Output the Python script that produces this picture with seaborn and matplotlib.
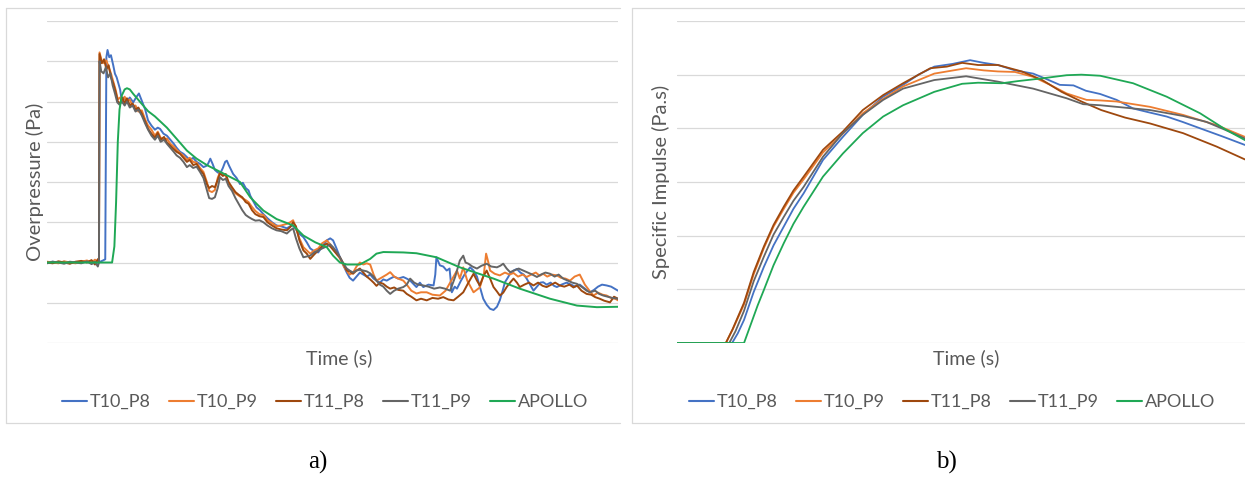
import matplotlib
matplotlib.use("Agg")
import matplotlib.pyplot as plt
from matplotlib.lines import Line2D
import seaborn as sns
import pandas as pd

# ---------------- data: panel a (overpressure, arbitrary units) ----------------
series_names = ["T10_P8", "T10_P9", "T11_P8", "T11_P9", "APOLLO"]
colors = ["#4472C4", "#ED7D31", "#9E480E", "#656565", "#1FA855"]

a_t10p8_t = [0, 1, 2, 3, 4, 5, 6, 7, 8, 9, 9.8, 10.2, 10.4, 10.6, 10.9, 11.2, 11.6, 11.9, 12.2, 12.5, 12.8, 13.1, 13.5, 14.0, 14.5, 15.1, 15.6, 16.1, 16.6, 17.2, 17.7, 18.3, 18.9, 19.4, 19.8, 20.4, 21.0, 21.6, 22.2, 22.7, 23.3, 23.9, 24.5, 25.0, 25.6, 26.2, 26.8, 27.4, 27.9, 28.2, 28.6, 29.0, 29.4, 29.8, 30.3, 30.8, 31.2, 31.5, 31.9, 32.6, 33.2, 33.8, 34.3, 34.8, 35.3, 35.6, 36.2, 36.7, 37.3, 37.9, 38.6, 39.4, 40.2, 41.0, 42.0, 42.6, 43.1, 43.7, 44.3, 44.9, 45.5, 46.1, 46.8, 47.5, 48.2, 49.0, 49.6, 50.1, 50.7, 51.3, 52.0, 52.5, 53.0, 53.6, 54.2, 54.8, 55.4, 56.0, 56.6, 57.2, 57.7, 58.3, 58.9, 59.5, 60.1, 60.8, 61.5, 62.4, 63.0, 63.6, 64.7, 65.3, 65.9, 66.8, 67.7, 68.0, 68.2, 68.8, 69.4, 70.0, 70.5, 70.9, 71.4, 71.8, 72.5, 73.2, 74.1, 74.7, 75.3, 75.9, 76.4, 77.0, 77.6, 78.2, 78.8, 79.3, 79.8, 80.2, 80.6, 81.1, 81.7, 82.3, 82.9, 83.5, 84.0, 84.6, 85.2, 85.8, 86.4, 86.9, 87.5, 88.2, 88.8, 89.3, 90.1, 91.0, 91.8, 92.5, 93.3, 94.2, 95.1, 95.8, 96.5, 97.2, 98.0, 98.8, 99.4, 100]
a_t10p8_v = [0.0, 0.02, -0.01, 0.02, -0.02, 0.01, 0.0, 0.02, -0.02, 0.0, 0.05, 0.08, 5.1, 5.28, 5.1, 5.15, 4.9, 4.69, 4.6, 4.45, 4.3, 4.02, 4.1, 4.0, 4.1, 3.98, 4.1, 4.2, 4.02, 3.8, 3.53, 3.4, 3.3, 3.35, 3.32, 3.2, 3.15, 3.05, 2.95, 2.85, 2.75, 2.7, 2.62, 2.55, 2.6, 2.5, 2.45, 2.37, 2.4, 2.45, 2.58, 2.45, 2.3, 2.25, 2.2, 2.35, 2.5, 2.53, 2.4, 2.2, 2.1, 1.95, 1.98, 1.85, 1.79, 1.66, 1.5, 1.37, 1.3, 1.2, 1.1, 1.0, 0.92, 0.9, 0.85, 0.9, 0.92, 0.8, 0.7, 0.63, 0.5, 0.35, 0.28, 0.25, 0.4, 0.55, 0.6, 0.55, 0.35, 0.13, -0.1, -0.25, -0.38, -0.45, -0.35, -0.25, -0.3, -0.35, -0.3, -0.4, -0.45, -0.5, -0.42, -0.45, -0.4, -0.35, -0.4, -0.36, -0.4, -0.45, -0.61, -0.5, -0.61, -0.55, -0.57, -0.3, 0.13, -0.07, -0.1, -0.2, -0.15, -0.74, -0.6, -0.65, -0.45, -0.28, -0.12, -0.2, -0.35, -0.65, -0.9, -1.05, -1.15, -1.18, -1.1, -0.94, -0.7, -0.49, -0.4, -0.28, -0.2, -0.16, -0.25, -0.3, -0.4, -0.55, -0.7, -0.6, -0.5, -0.49, -0.55, -0.5, -0.58, -0.61, -0.55, -0.5, -0.55, -0.6, -0.55, -0.65, -0.74, -0.68, -0.6, -0.55, -0.57, -0.6, -0.65, -0.7]

a_t10p9_t = [0, 1, 2, 3, 4, 5, 6, 7, 7.8, 8.4, 8.9, 9.1, 9.2, 9.6, 10.0, 10.4, 10.8, 11.2, 11.6, 12.0, 12.4, 12.8, 13.2, 13.6, 14.0, 14.5, 15.0, 15.5, 16.0, 16.6, 17.2, 17.7, 18.3, 18.9, 19.4, 19.9, 20.5, 21.0, 21.6, 22.2, 22.7, 23.3, 23.9, 24.5, 25.0, 25.6, 26.2, 26.8, 27.4, 28.0, 28.4, 28.9, 29.4, 29.9, 30.3, 30.8, 31.3, 31.8, 32.4, 33.0, 33.6, 34.2, 34.8, 35.3, 35.9, 36.5, 37.2, 37.9, 38.6, 39.4, 40.2, 41.0, 42.0, 42.6, 43.1, 43.6, 44.2, 44.9, 45.5, 46.1, 46.8, 47.5, 48.2, 49.0, 49.6, 50.2, 50.8, 51.3, 52.0, 52.5, 53.0, 53.6, 54.2, 54.8, 55.4, 56.0, 56.6, 57.2, 57.7, 58.3, 58.9, 59.5, 60.1, 60.8, 61.5, 62.4, 63.0, 63.8, 64.7, 65.5, 66.5, 67.5, 68.8, 69.8, 70.8, 71.4, 71.8, 72.3, 72.9, 73.6, 74.7, 75.8, 76.5, 76.9, 77.3, 77.6, 78.4, 79.3, 80.2, 81.0, 81.7, 82.5, 83.3, 84.0, 84.8, 85.6, 86.3, 86.9, 87.6, 88.4, 89.3, 90.0, 90.8, 91.6, 92.4, 93.3, 94.2, 95.0, 95.7, 96.5, 97.3, 98.0, 98.8, 99.5, 100]
a_t10p9_v = [0.02, 0.0, -0.02, 0.03, 0.0, -0.02, 0.02, 0.05, 0.0, 0.07, 0.02, 0.05, 5.22, 5.0, 4.95, 5.02, 4.85, 4.7, 4.5, 4.3, 4.05, 4.1, 3.98, 4.12, 4.0, 4.05, 3.88, 3.9, 3.75, 3.78, 3.55, 3.4, 3.3, 3.15, 3.25, 3.1, 3.05, 3.08, 2.95, 2.88, 2.8, 2.72, 2.65, 2.55, 2.6, 2.5, 2.48, 2.35, 2.25, 2.0, 1.78, 1.75, 1.8, 2.1, 2.25, 2.2, 2.15, 1.95, 1.82, 1.72, 1.66, 1.6, 1.55, 1.5, 1.38, 1.28, 1.2, 1.18, 1.05, 0.98, 0.9, 0.92, 0.96, 1.0, 1.05, 0.85, 0.6, 0.38, 0.3, 0.22, 0.3, 0.35, 0.48, 0.55, 0.45, 0.32, 0.2, 0.1, -0.1, -0.2, -0.3, -0.25, -0.1, 0.0, -0.05, -0.02, -0.05, -0.3, -0.45, -0.4, -0.35, -0.3, -0.24, -0.35, -0.4, -0.45, -0.55, -0.7, -0.77, -0.74, -0.74, -0.8, -0.82, -0.7, -0.45, -0.3, -0.2, -0.4, -0.12, -0.45, -0.74, -0.62, -0.3, 0.22, 0.0, -0.2, -0.28, -0.32, -0.25, -0.3, -0.26, -0.35, -0.3, -0.36, -0.3, -0.25, -0.33, -0.28, -0.35, -0.3, -0.32, -0.38, -0.4, -0.45, -0.35, -0.3, -0.55, -0.7, -0.82, -0.75, -0.8, -0.82, -0.88, -0.9, -0.94]

a_t11p8_t = [0, 1, 2, 3, 4, 5, 6, 7, 7.8, 8.4, 8.9, 9.1, 9.2, 9.6, 10.0, 10.4, 10.8, 11.2, 11.6, 12.0, 12.4, 12.8, 13.2, 13.6, 14.0, 14.5, 15.0, 15.5, 16.0, 16.6, 17.2, 17.7, 18.3, 18.9, 19.4, 19.9, 20.5, 21.0, 21.6, 22.2, 22.7, 23.3, 23.9, 24.5, 25.0, 25.6, 26.2, 26.8, 27.4, 28.0, 28.4, 28.9, 29.4, 29.9, 30.3, 30.8, 31.3, 31.8, 32.4, 33.0, 33.6, 34.2, 34.8, 35.3, 35.9, 36.5, 37.2, 37.9, 38.6, 39.4, 40.2, 41.0, 42.0, 42.6, 43.1, 43.6, 44.2, 44.9, 45.5, 46.1, 46.8, 47.5, 48.2, 49.0, 49.6, 50.2, 50.8, 51.3, 52.0, 52.5, 53.0, 53.6, 54.2, 54.8, 55.4, 56.0, 56.6, 57.2, 57.7, 58.3, 58.9, 59.5, 60.1, 60.8, 61.5, 62.4, 63.0, 63.8, 64.7, 65.5, 66.5, 67.5, 68.5, 69.4, 70.3, 71.2, 72.0, 72.9, 73.8, 74.7, 75.3, 75.8, 76.4, 77.0, 77.6, 78.2, 78.8, 79.3, 79.9, 80.5, 81.1, 81.7, 82.3, 82.8, 83.6, 84.4, 85.2, 86.0, 86.8, 87.5, 88.3, 89.0, 89.8, 90.6, 91.5, 92.2, 92.8, 93.6, 94.5, 95.3, 96.0, 96.8, 97.6, 98.6, 99.3, 100]
a_t11p8_v = [0.0, -0.02, 0.03, 0.0, -0.03, 0.02, 0.04, 0.0, 0.06, -0.05, 0.08, 0.1, 5.18, 4.95, 5.05, 4.8, 4.9, 4.6, 4.45, 4.25, 4.0, 3.95, 4.1, 3.95, 4.08, 3.9, 3.95, 3.8, 3.85, 3.7, 3.5, 3.32, 3.2, 3.1, 3.22, 3.05, 3.12, 2.98, 2.9, 2.82, 2.75, 2.7, 2.6, 2.5, 2.55, 2.42, 2.45, 2.3, 2.2, 1.95, 1.85, 1.9, 1.87, 2.05, 2.22, 2.15, 2.2, 2.0, 1.87, 1.75, 1.68, 1.62, 1.5, 1.46, 1.3, 1.2, 1.15, 1.13, 1.0, 0.92, 0.85, 0.82, 0.8, 0.88, 1.0, 0.9, 0.55, 0.3, 0.22, 0.09, 0.2, 0.3, 0.4, 0.47, 0.4, 0.3, 0.2, 0.13, -0.05, -0.2, -0.22, -0.28, -0.2, -0.15, -0.25, -0.35, -0.42, -0.5, -0.58, -0.5, -0.53, -0.6, -0.65, -0.62, -0.68, -0.7, -0.78, -0.85, -0.94, -0.9, -0.94, -0.88, -0.9, -0.86, -0.92, -0.94, -0.85, -0.74, -0.5, -0.28, -0.45, -0.57, -0.35, -0.2, -0.4, -0.61, -0.72, -0.82, -0.75, -0.61, -0.5, -0.4, -0.5, -0.61, -0.55, -0.5, -0.57, -0.5, -0.58, -0.61, -0.55, -0.5, -0.57, -0.6, -0.55, -0.62, -0.57, -0.7, -0.78, -0.8, -0.86, -0.9, -0.95, -0.99, -0.85, -0.9]

a_t11p9_t = [0, 1, 2, 3, 4, 5, 6, 7, 7.8, 8.4, 8.9, 9.1, 9.2, 9.5, 9.9, 10.3, 10.7, 11.1, 11.5, 11.9, 12.3, 12.7, 13.1, 13.6, 14.0, 14.5, 15.0, 15.5, 16.0, 16.6, 17.2, 17.7, 18.3, 18.9, 19.4, 19.9, 20.5, 21.0, 21.6, 22.2, 22.7, 23.3, 23.9, 24.5, 25.0, 25.6, 26.2, 26.8, 27.4, 28.0, 28.4, 28.9, 29.4, 29.9, 30.3, 30.8, 31.3, 31.8, 32.4, 33.0, 33.6, 34.2, 34.8, 35.3, 35.9, 36.5, 37.2, 37.9, 38.6, 39.4, 40.2, 41.0, 42.0, 42.6, 43.1, 43.6, 44.2, 44.9, 45.5, 46.1, 46.8, 47.5, 48.2, 49.0, 49.6, 50.1, 50.8, 51.3, 52.0, 52.5, 53.0, 53.6, 54.2, 54.8, 55.4, 56.0, 56.6, 57.2, 57.7, 58.3, 58.9, 59.5, 60.1, 60.8, 61.5, 62.4, 63.0, 63.6, 64.3, 65.0, 65.9, 66.8, 67.8, 68.8, 69.7, 70.6, 71.5, 72.3, 72.9, 73.3, 73.8, 74.5, 75.3, 76.1, 77.0, 77.8, 78.8, 79.4, 79.9, 80.5, 81.1, 81.8, 82.6, 83.4, 84.2, 85.0, 85.8, 86.5, 87.3, 88.1, 88.9, 89.6, 90.4, 91.2, 92.0, 92.8, 93.6, 94.5, 95.1, 96.0, 96.7, 97.4, 98.2, 99.0, 100]
a_t11p9_v = [-0.02, 0.02, 0.0, -0.03, 0.02, 0.0, -0.02, 0.03, -0.04, 0.02, -0.1, 0.0, 5.0, 4.75, 4.7, 4.85, 4.6, 4.7, 4.4, 4.2, 3.98, 3.92, 4.0, 3.9, 4.0, 3.85, 3.9, 3.75, 3.8, 3.65, 3.45, 3.3, 3.15, 3.05, 3.15, 3.0, 3.05, 2.95, 2.85, 2.75, 2.66, 2.6, 2.5, 2.37, 2.42, 2.35, 2.38, 2.25, 2.1, 1.8, 1.6, 1.58, 1.62, 1.85, 2.12, 2.05, 2.08, 1.9, 1.78, 1.6, 1.45, 1.3, 1.18, 1.13, 1.08, 1.04, 1.05, 1.0, 0.92, 0.85, 0.8, 0.78, 0.72, 0.8, 0.85, 0.6, 0.35, 0.13, 0.15, 0.17, 0.25, 0.3, 0.35, 0.4, 0.45, 0.38, 0.25, 0.13, -0.05, -0.15, -0.2, -0.25, -0.2, -0.18, -0.2, -0.22, -0.27, -0.35, -0.45, -0.55, -0.6, -0.7, -0.78, -0.7, -0.65, -0.61, -0.55, -0.4, -0.5, -0.55, -0.57, -0.6, -0.65, -0.62, -0.65, -0.7, -0.35, 0.05, 0.17, 0.0, -0.03, -0.1, -0.15, -0.08, -0.03, -0.1, -0.12, -0.08, -0.03, -0.15, -0.24, -0.2, -0.15, -0.2, -0.25, -0.3, -0.36, -0.3, -0.25, -0.28, -0.35, -0.3, -0.4, -0.45, -0.5, -0.53, -0.6, -0.7, -0.74, -0.7, -0.78, -0.82, -0.85, -0.88, -0.9]

a_apollo_t = [0, 5, 10, 11.4, 11.8, 12.1, 12.4, 12.7, 13.1, 13.6, 14.0, 14.5, 15.1, 16.6, 17.7, 18.9, 21.0, 24.5, 26.2, 28.0, 30.5, 33.8, 35.6, 36.7, 37.9, 40.2, 43.1, 44.9, 47.0, 49.0, 50.1, 51.3, 52.5, 54.8, 56.6, 57.7, 58.9, 62.4, 64.7, 68.2, 72.3, 78.2, 82.8, 88.1, 92.8, 96.3, 100]
a_apollo_v = [0.0, 0.0, 0.0, 0.0, 0.4, 1.5, 3.0, 3.8, 4.15, 4.3, 4.33, 4.3, 4.19, 3.94, 3.76, 3.63, 3.35, 2.78, 2.58, 2.42, 2.24, 2.0, 1.62, 1.46, 1.29, 1.08, 0.92, 0.67, 0.5, 0.38, 0.17, 0.0, -0.05, -0.05, 0.09, 0.22, 0.26, 0.25, 0.23, 0.13, -0.12, -0.4, -0.65, -0.9, -1.07, -1.11, -1.1]

# ---------------- data: panel b (specific impulse, arbitrary units) ----------------
b_t10p8_t = [0, 9.7, 10.7, 11.8, 13.5, 15.3, 17.0, 18.8, 20.5, 22.3, 25.7, 29.2, 32.7, 36.3, 39.8, 42.5, 45.3, 48.5, 51.6, 54.0, 56.5, 59.5, 62.7, 65.0, 67.4, 69.8, 72.0, 74.5, 77.4, 80.3, 83.0, 86.2, 89.0, 92.1, 96.0, 100]
b_t10p8_v = [0, 0, 0.18, 0.43, 0.95, 1.42, 1.82, 2.17, 2.5, 2.79, 3.41, 3.84, 4.25, 4.59, 4.81, 5.0, 5.15, 5.2, 5.27, 5.22, 5.18, 5.08, 5.02, 4.92, 4.81, 4.8, 4.7, 4.64, 4.53, 4.37, 4.3, 4.22, 4.12, 4.0, 3.85, 3.69]
b_t10p9_t = [0, 8.6, 9.8, 11.8, 13.5, 15.3, 17.0, 18.8, 20.5, 22.3, 25.7, 29.2, 32.7, 36.3, 39.8, 45.3, 50.9, 54.0, 56.5, 59.5, 62.7, 65.5, 68.6, 72.1, 74.5, 77.4, 83.3, 89.1, 95.0, 100]
b_t10p9_v = [0, 0, 0.25, 0.72, 1.28, 1.77, 2.17, 2.5, 2.8, 3.05, 3.55, 3.9, 4.28, 4.55, 4.78, 5.02, 5.12, 5.08, 5.06, 5.05, 4.96, 4.82, 4.65, 4.53, 4.52, 4.5, 4.4, 4.25, 4.06, 3.84]
b_t11p8_t = [0, 8.6, 9.8, 11.8, 13.5, 15.3, 17.0, 18.8, 20.5, 22.3, 25.7, 29.2, 32.7, 36.3, 39.8, 44.6, 47.5, 50.2, 53.0, 56.5, 60.7, 64.3, 67.7, 71.2, 74.7, 78.9, 83.3, 89.1, 95.0, 100]
b_t11p8_v = [0, 0, 0.26, 0.75, 1.32, 1.8, 2.2, 2.54, 2.84, 3.1, 3.6, 3.94, 4.34, 4.62, 4.84, 5.12, 5.15, 5.22, 5.18, 5.18, 5.06, 4.9, 4.68, 4.5, 4.34, 4.2, 4.09, 3.91, 3.66, 3.42]
b_t11p9_t = [0, 9.2, 10.3, 11.8, 13.5, 15.3, 17.0, 18.8, 20.5, 22.3, 25.7, 29.2, 32.7, 36.3, 39.8, 45.3, 50.9, 56.5, 62.7, 68.6, 71.5, 74.5, 77.4, 83.3, 89.1, 93.2, 97.0, 100]
b_t11p9_v = [0, 0, 0.22, 0.6, 1.15, 1.61, 2.02, 2.35, 2.65, 2.91, 3.47, 3.91, 4.25, 4.53, 4.74, 4.9, 4.97, 4.87, 4.74, 4.56, 4.45, 4.43, 4.4, 4.34, 4.23, 4.12, 3.95, 3.81]
b_apollo_t = [0, 11.8, 13.0, 14.2, 15.3, 17.0, 18.8, 20.5, 22.3, 25.7, 29.2, 32.7, 36.3, 39.8, 45.3, 50.2, 53.0, 57.2, 60.0, 64.2, 68.6, 71.2, 74.5, 80.3, 86.2, 92.1, 96.7, 100]
b_apollo_v = [0, 0, 0.35, 0.7, 0.99, 1.45, 1.86, 2.22, 2.54, 3.1, 3.53, 3.91, 4.22, 4.43, 4.68, 4.83, 4.85, 4.84, 4.88, 4.93, 4.99, 5.0, 4.98, 4.84, 4.59, 4.28, 3.97, 3.78]

a_ylabel = "Overpressure (Pa)"
b_ylabel = "Specific Impulse (Pa.s)"
xlabel = "Time (s)"
panel_tags = ["a)", "b)"]


def long_frame(pairs):
    frames = []
    for name, (t, v) in zip(series_names, pairs):
        frames.append(pd.DataFrame({"t": t, "v": v, "series": name}))
    return pd.concat(frames, ignore_index=True)


df_a = long_frame([(a_t10p8_t, a_t10p8_v), (a_t10p9_t, a_t10p9_v), (a_t11p8_t, a_t11p8_v),
                   (a_t11p9_t, a_t11p9_v), (a_apollo_t, a_apollo_v)])
df_b = long_frame([(b_t10p8_t, b_t10p8_v), (b_t10p9_t, b_t10p9_v), (b_t11p8_t, b_t11p8_v),
                   (b_t11p9_t, b_t11p9_v), (b_apollo_t, b_apollo_v)])

# ---------------- figure ----------------
sns.set_style("white")
plt.rcParams["font.family"] = ["Lato", "DejaVu Sans"]

W, H = 1245, 479
fig = plt.figure(figsize=(W / 100, H / 100), dpi=100)
fig.patch.set_facecolor("white")


def px_axes(l, t, r, b):
    return fig.add_axes([l / W, 1 - b / H, (r - l) / W, (b - t) / H])


def fig_line(x1, y1, x2, y2):
    fig.add_artist(Line2D([x1 / W, x2 / W], [1 - y1 / H, 1 - y2 / H],
                          transform=fig.transFigure, color="#D9D9D9", lw=0.9))


palette = dict(zip(series_names, colors))
grid_c = "#D9D9D9"
text_c = "#595959"

axA = px_axes(47, 21, 618, 343)
axB = px_axes(677, 21, 1245, 343)

sns.lineplot(data=df_a, x="t", y="v", hue="series", hue_order=series_names, palette=palette,
             sort=False, estimator=None, lw=1.4, ax=axA, legend=True)
sns.lineplot(data=df_b, x="t", y="v", hue="series", hue_order=series_names, palette=palette,
             sort=False, estimator=None, lw=1.3, ax=axB, legend=True)

axA.set_xlim(0, 100)
axA.set_ylim(-2, 6)
axA.set_yticks(range(-2, 7))
axB.set_xlim(0, 100)
axB.set_ylim(0, 6)
axB.set_yticks(range(0, 7))

for ax in (axA, axB):
    ax.set_xticks([])
    ax.tick_params(left=False, labelleft=False, bottom=False, labelbottom=False)
    ax.grid(axis="y", color=grid_c, lw=0.9)
    ax.set_axisbelow(True)
    for s in ax.spines.values():
        s.set_visible(False)
    ax.set_xlabel("")
    ax.set_ylabel("")
    ax.set_facecolor("none")

# legends
for ax, cx in ((axA, 325), (axB, 952)):
    handles, labels = ax.get_legend_handles_labels()
    ax.get_legend().remove()
    leg = fig.legend(handles, labels, loc="center", bbox_to_anchor=(cx / W, 1 - 402 / H),
                     ncol=5, frameon=False, fontsize=13, handlelength=1.4, handletextpad=0.15,
                     columnspacing=1.0, borderaxespad=0, borderpad=0)
    for txt in leg.get_texts():
        txt.set_color(text_c)
    for ln in leg.get_lines():
        ln.set_linewidth(1.5)

# axis titles
fig.text(339 / W, 1 - 358 / H, xlabel, ha="center", va="center", fontsize=14, color=text_c)
fig.text(966 / W, 1 - 358 / H, xlabel, ha="center", va="center", fontsize=14, color=text_c)
fig.text(35 / W, 1 - 182 / H, a_ylabel, ha="center", va="center", rotation=90, fontsize=14.5, color=text_c)
fig.text(661 / W, 1 - 182 / H, b_ylabel, ha="center", va="center", rotation=90, fontsize=14.5, color=text_c)

# chart-area frames (right edges cropped in the source)
fig_line(6, 8, 620, 8)
fig_line(6, 8, 6, 423)
fig_line(6, 423, 620, 423)
fig_line(632, 8, 1245, 8)
fig_line(632, 8, 632, 423)
fig_line(632, 423, 1245, 423)

# panel tags
fig.text(318 / W, 1 - 462 / H, panel_tags[0], ha="center", va="center", fontsize=18,
         family=["Liberation Serif", "DejaVu Serif"], color="black")
fig.text(946 / W, 1 - 462 / H, panel_tags[1], ha="center", va="center", fontsize=18,
         family=["Liberation Serif", "DejaVu Serif"], color="black")

fig.savefig("out.png", dpi=100, facecolor="white")
